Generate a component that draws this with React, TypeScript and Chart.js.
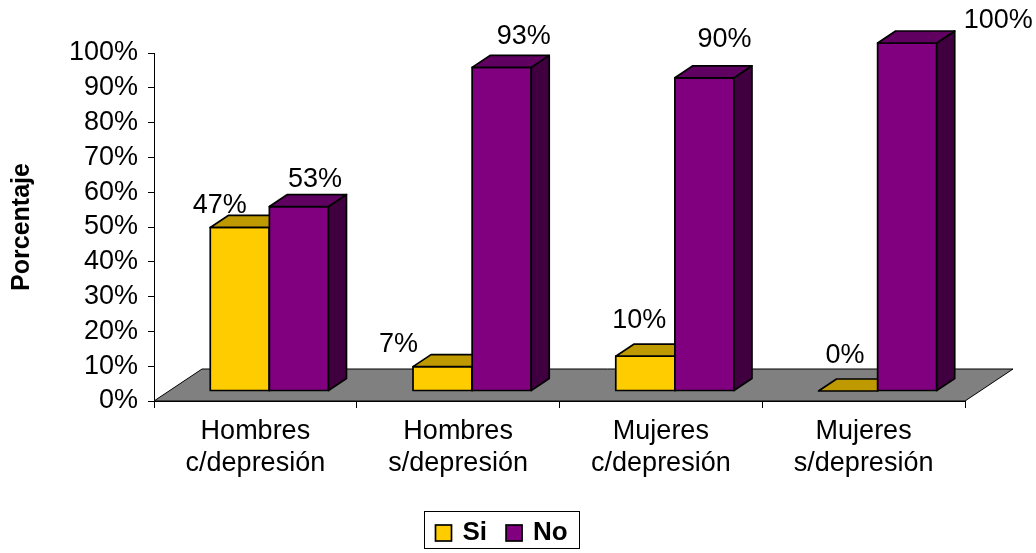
import React, { useEffect, useRef } from "react";
import { Chart, registerables } from "chart.js";

Chart.register(...registerables);

// ---- data ----
const categories: string[][] = [
  ["Hombres", "c/depresión"],
  ["Hombres", "s/depresión"],
  ["Mujeres", "c/depresión"],
  ["Mujeres", "s/depresión"],
];
const seriesNames = ["Si", "No"];
const siValues = [47, 7, 10, 0];
const noValues = [53, 93, 90, 100];
const yTickValues = [0, 10, 20, 30, 40, 50, 60, 70, 80, 90, 100];

// ---- styling ----
const FONT = "'Liberation Sans', Arial, Helvetica, sans-serif";
const faceColors = [
  { front: "#FFCC00", top: "#BF9900", side: "#806600" },
  { front: "#800080", top: "#600060", side: "#400040" },
];
const FLOOR_COLOR = "#808080";
const FLOOR_DEPTH = { dx: 48, dy: -32 }; // receding floor
const BAR_SHIFT = { dx: 14, dy: -10 }; // bars stand a little way back on the floor
const BAR_DEPTH = { dx: 18, dy: -12 }; // thickness of each prism
// value-label nudges relative to the centre of each bar's top face
const siLabelShift = [[-29, -16], [-53, -16], [-15, -30], [-12, -29]];
const noLabelShift = [[7, -21], [13, -25], [11, -32], [82, -16]];

type Pt = [number, number];

function poly(ctx: CanvasRenderingContext2D, pts: Pt[], fill: string) {
  ctx.beginPath();
  ctx.moveTo(pts[0][0], pts[0][1]);
  for (let i = 1; i < pts.length; i++) ctx.lineTo(pts[i][0], pts[i][1]);
  ctx.closePath();
  ctx.fillStyle = fill;
  ctx.fill();
  ctx.stroke();
}

const bars3d = {
  id: "bars3d",
  beforeDatasetsDraw(chart: any) {
    const { ctx, chartArea } = chart;
    const y0 = chart.scales.y.getPixelForValue(0);
    const l = chartArea.left;
    const r = chartArea.right;
    ctx.save();
    ctx.strokeStyle = "#000";
    ctx.lineWidth = 1;
    ctx.lineJoin = "miter";
    poly(
      ctx,
      [
        [l, y0],
        [l + FLOOR_DEPTH.dx, y0 + FLOOR_DEPTH.dy],
        [r + FLOOR_DEPTH.dx, y0 + FLOOR_DEPTH.dy],
        [r, y0],
      ],
      FLOOR_COLOR
    );
    ctx.restore();
  },
  afterDatasetsDraw(chart: any) {
    const { ctx } = chart;
    const shifts = [siLabelShift, noLabelShift];
    const labels: { text: string; x: number; y: number }[] = [];
    ctx.save();
    ctx.strokeStyle = "#000";
    ctx.lineWidth = 1.7;
    ctx.lineJoin = "round";
    for (let i = 0; i < categories.length; i++) {
      chart.data.datasets.forEach((ds: any, d: number) => {
        const el = chart.getDatasetMeta(d).data[i];
        const { x, y, base, width } = el.getProps(["x", "y", "base", "width"], true);
        const left = x - width / 2 + BAR_SHIFT.dx;
        const right = x + width / 2 + BAR_SHIFT.dx;
        const top = y + BAR_SHIFT.dy;
        const bottom = base + BAR_SHIFT.dy;
        const c = faceColors[d];
        if (bottom - top > 0.5) {
          poly(ctx, [[left, top], [right, top], [right, bottom], [left, bottom]], c.front);
          poly(
            ctx,
            [
              [right, top],
              [right + BAR_DEPTH.dx, top + BAR_DEPTH.dy],
              [right + BAR_DEPTH.dx, bottom + BAR_DEPTH.dy],
              [right, bottom],
            ],
            c.side
          );
        }
        poly(
          ctx,
          [
            [left, top],
            [left + BAR_DEPTH.dx, top + BAR_DEPTH.dy],
            [right + BAR_DEPTH.dx, top + BAR_DEPTH.dy],
            [right, top],
          ],
          c.top
        );
        const [sx, sy] = shifts[d][i];
        labels.push({
          text: `${ds.data[i]}%`,
          x: x + BAR_SHIFT.dx + BAR_DEPTH.dx / 2 + sx,
          y: y + BAR_SHIFT.dy + BAR_DEPTH.dy / 2 + sy,
        });
      });
    }
    ctx.fillStyle = "#000";
    ctx.font = `27px ${FONT}`;
    ctx.textAlign = "center";
    ctx.textBaseline = "middle";
    labels.forEach((lb) => ctx.fillText(lb.text, lb.x, lb.y));
    ctx.restore();
  },
  afterDraw(chart: any) {
    // boxed legend below the category labels
    const { ctx } = chart;
    const centerX = 502;
    const boxTop = 511;
    const boxH = 37;
    const sq = 16;
    const gapText = 11;
    const gapItem = 19;
    const padL = 11;
    const padR = 12;
    ctx.save();
    ctx.font = `bold 26px ${FONT}`;
    const items = chart.data.datasets.map((ds: any, d: number) => ({
      text: ds.label as string,
      color: faceColors[d].front,
      w: ctx.measureText(ds.label).width,
    }));
    let total = padL + padR + gapItem * (items.length - 1);
    items.forEach((it: any) => (total += sq + gapText + it.w));
    const boxL = Math.round(centerX - total / 2) + 0.5;
    ctx.strokeStyle = "#000";
    ctx.lineWidth = 1;
    ctx.strokeRect(boxL, boxTop + 0.5, Math.round(total), boxH);
    const midY = boxTop + 22;
    let cx = boxL + padL;
    items.forEach((it: any) => {
      ctx.fillStyle = it.color;
      ctx.lineWidth = 1.7;
      ctx.fillRect(cx, midY - sq / 2, sq, sq);
      ctx.strokeRect(cx, midY - sq / 2, sq, sq);
      cx += sq + gapText;
      ctx.fillStyle = "#000";
      ctx.textAlign = "left";
      ctx.textBaseline = "middle";
      ctx.fillText(it.text, cx, midY);
      cx += it.w + gapItem;
    });
    ctx.restore();
  },
};

export default function App() {
  const canvasRef = useRef<HTMLCanvasElement | null>(null);

  useEffect(() => {
    if (!canvasRef.current) return;
    const clear = "rgba(0,0,0,0)";
    const chart = new Chart(canvasRef.current, {
      type: "bar",
      data: {
        labels: categories,
        datasets: [
          {
            label: seriesNames[0],
            data: siValues,
            backgroundColor: clear,
            borderWidth: 0,
            categoryPercentage: 0.583,
            barPercentage: 1,
          },
          {
            label: seriesNames[1],
            data: noValues,
            backgroundColor: clear,
            borderWidth: 0,
            categoryPercentage: 0.583,
            barPercentage: 1,
          },
        ],
      },
      options: {
        animation: false,
        responsive: true,
        maintainAspectRatio: false,
        layout: { padding: { left: 0, top: 53, right: 71, bottom: 0 } },
        plugins: {
          legend: { display: false },
          tooltip: { enabled: false },
        },
        scales: {
          x: {
            offset: true,
            afterFit: (s: any) => {
              s.height = 152;
            },
            ticks: {
              color: "#000",
              font: { family: FONT, size: 27, lineHeight: 1.18 },
              padding: 8,
              maxRotation: 0,
              autoSkip: false,
            },
            grid: {
              offset: true,
              drawOnChartArea: false,
              drawTicks: true,
              tickLength: 7,
              color: "#000",
            },
            border: { display: true, color: "#000", width: 1 },
          },
          y: {
            min: 0,
            max: 100,
            afterBuildTicks: (s: any) => {
              s.ticks = yTickValues.map((v) => ({ value: v }));
            },
            afterFit: (s: any) => {
              s.width = 154;
            },
            ticks: {
              color: "#000",
              font: { family: FONT, size: 27 },
              padding: 10,
              autoSkip: false,
              callback: (v: any) => `${v}%`,
            },
            grid: {
              drawOnChartArea: false,
              drawTicks: true,
              tickLength: 6,
              color: "#000",
            },
            border: { display: true, color: "#000", width: 1 },
            title: {
              display: true,
              text: "Porcentaje",
              color: "#000",
              font: { family: FONT, size: 25, weight: "bold" },
              padding: { top: 7 },
            },
          },
        },
      },
      plugins: [bars3d],
    } as any);
    return () => chart.destroy();
  }, []);

  return (
    <div
      style={{
        position: "fixed",
        left: 0,
        top: 0,
        width: 1036,
        height: 553,
        background: "#fff",
      }}
    >
      <canvas ref={canvasRef} />
    </div>
  );
}
